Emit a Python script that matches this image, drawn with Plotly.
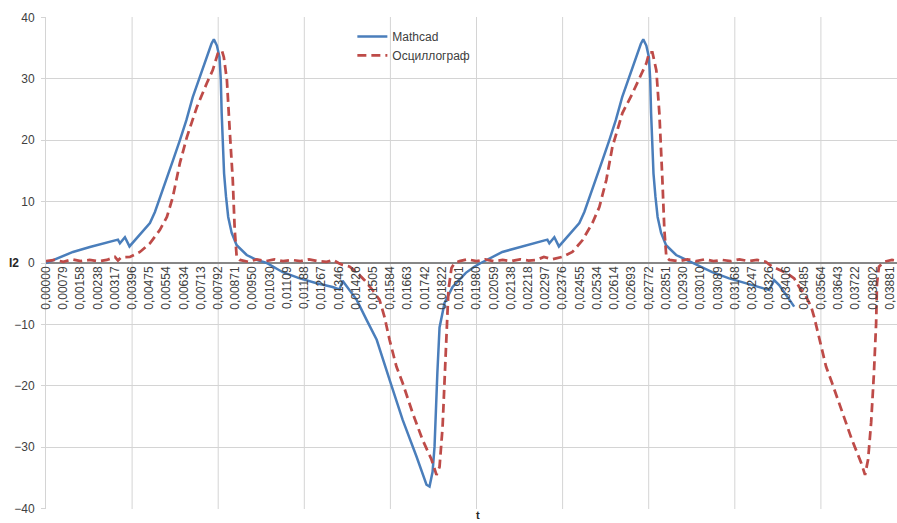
import plotly.graph_objects as go

# ---- data ----
tick_labels = ["0,00000", "0,00079", "0,00158", "0,00238", "0,00317", "0,00396", "0,00475", "0,00554",
               "0,00634", "0,00713", "0,00792", "0,00871", "0,00950", "0,01030", "0,01109", "0,01188",
               "0,01267", "0,01346", "0,01426", "0,01505", "0,01584", "0,01663", "0,01742", "0,01822",
               "0,01901", "0,01980", "0,02059", "0,02138", "0,02218", "0,02297", "0,02376", "0,02455",
               "0,02534", "0,02614", "0,02693", "0,02772", "0,02851", "0,02930", "0,03010", "0,03089",
               "0,03168", "0,03247", "0,03326", "0,03406", "0,03485", "0,03564", "0,03643", "0,03722",
               "0,03802", "0,03881", "0,03960"]

mathcad_t = [0.0, 0.00124, 0.00202, 0.00280, 0.00331, 0.00340, 0.00363, 0.00384, 0.00432, 0.00478,
             0.00501, 0.00524, 0.00555, 0.00584, 0.00616, 0.00646, 0.00675, 0.00707, 0.00738, 0.00761,
             0.00772, 0.00786, 0.00798, 0.00804, 0.00808, 0.00813, 0.00819, 0.00828, 0.00838, 0.00854,
             0.00877, 0.00923, 0.00969, 0.01015, 0.01089, 0.01167, 0.01245, 0.01318, 0.01350, 0.01364,
             0.01392, 0.01429, 0.01475, 0.01521, 0.01580, 0.01640, 0.01704, 0.01750, 0.01764, 0.01778,
             0.01787, 0.01793, 0.01800, 0.01810, 0.01833, 0.01870, 0.01931, 0.01970, 0.02000,
             0.02099, 0.02177, 0.02255, 0.02306, 0.02315, 0.02338, 0.02359, 0.02407, 0.02453, 0.02476,
             0.02499, 0.02530, 0.02559, 0.02591, 0.02621, 0.02650, 0.02682, 0.02713, 0.02736, 0.02747,
             0.02761, 0.02773, 0.02779, 0.02783, 0.02788, 0.02794, 0.02803, 0.02813, 0.02829, 0.02852,
             0.02898, 0.02944, 0.02990, 0.03064, 0.03142, 0.03220, 0.03289, 0.03326, 0.03349, 0.03372,
             0.03404, 0.03441]
mathcad_i = [0.0, 1.8, 2.6, 3.4, 3.8, 3.2, 4.2, 2.7, 4.6, 6.5,
             8.3, 10.6, 13.5, 16.7, 20.0, 23.3, 27.0, 30.3, 33.5, 35.7,
             36.4, 35.4, 33.5, 29.8, 24.4, 18.9, 14.6, 10.8, 7.5, 4.9,
             2.9, 1.3, 0.5, 0.0, -1.5, -2.5, -3.3, -3.9, -4.3, -2.9,
             -4.2, -6.0, -9.3, -12.5, -19.0, -25.5, -31.5, -36.1, -36.4, -34.0,
             -29.9, -23.4, -17.9, -10.5, -6.5, -3.9, -1.6, -0.6, 0.0,
             1.8, 2.6, 3.4, 3.8, 3.2, 4.2, 2.7, 4.6, 6.5, 8.3,
             10.6, 13.5, 16.7, 20.0, 23.3, 27.0, 30.3, 33.5, 35.7, 36.4,
             35.4, 33.5, 29.8, 24.4, 18.9, 14.6, 10.8, 7.5, 4.9, 2.9,
             1.3, 0.5, -0.3, -1.5, -2.5, -3.3, -3.9, -4.4, -2.8, -3.6,
             -5.2, -7.1]

osc_t = [0.0, 0.0004, 0.0008, 0.0012, 0.0016, 0.0020, 0.0024, 0.0028, 0.00317, 0.00331,
         0.00345, 0.00386, 0.00432, 0.00478, 0.00524, 0.00556, 0.00583, 0.00616, 0.00648, 0.00694,
         0.00740, 0.00767, 0.00790, 0.00809, 0.00818, 0.00832, 0.00845, 0.00859, 0.00868, 0.00877,
         0.00891, 0.0093, 0.0097, 0.0101, 0.0105, 0.0109, 0.0113, 0.0117, 0.0121, 0.0125,
         0.01291, 0.01320, 0.01345, 0.01364, 0.01397, 0.01429, 0.01465, 0.01502, 0.01534, 0.01557,
         0.01580, 0.01612, 0.01640, 0.01686, 0.01732, 0.01773, 0.01796, 0.01810, 0.01824, 0.01833,
         0.01842, 0.01851, 0.01865, 0.01879, 0.01902, 0.0194, 0.0198, 0.0202, 0.0206, 0.0210,
         0.0214, 0.0218, 0.0222, 0.02256, 0.02290, 0.02329, 0.02375, 0.02421, 0.02467, 0.02513,
         0.02545, 0.02577, 0.02605, 0.02651, 0.02697, 0.02729, 0.02761, 0.02775, 0.02789, 0.02807,
         0.02821, 0.02835, 0.02844, 0.02853, 0.02867, 0.0291, 0.0295, 0.0299, 0.0303, 0.0307,
         0.0311, 0.0315, 0.0319, 0.0323, 0.0327, 0.0331, 0.03340, 0.03372, 0.03404, 0.03441,
         0.03464, 0.03496, 0.03519, 0.03533, 0.03547, 0.03565, 0.03588, 0.03615, 0.03648, 0.03680,
         0.03707, 0.03749, 0.03767, 0.03781, 0.03795, 0.03808, 0.03818, 0.03822, 0.03831, 0.03854,
         0.03891, 0.03925, 0.0396]
osc_i = [0.3, 0.5, 0.2, 0.6, 0.3, 0.5, 0.3, 0.5, 1.0, 0.4,
         0.9, 1.0, 1.8, 3.2, 5.4, 7.5, 10.7, 16.3, 20.5, 25.4,
         29.3, 31.4, 34.1, 34.6, 33.5, 29.8, 21.6, 13.5, 5.4, 1.0,
         0.5, 0.2, 0.6, 0.3, 0.6, 0.3, 0.5, 0.3, 0.6, 0.3,
         0.2, 0.5, 0.0, -0.3, -0.6, -1.5, -2.8, -4.4, -6.0, -8.8,
         -12.5, -16.9, -19.5, -24.4, -28.8, -32.0, -34.5, -33.2, -26.7, -19.0,
         -11.4, -4.4, -0.8, 0.0, 0.3, 0.6, 0.3, 0.6, 0.3, 0.5,
         0.3, 0.6, 0.4, 0.5, 1.0, 0.6, 1.0, 1.8, 3.7, 6.5,
         9.1, 13.5, 18.9, 24.4, 27.6, 30.0, 32.5, 34.3, 34.3, 31.4,
         24.4, 13.5, 5.4, 1.0, 0.5, 0.3, 0.6, 0.3, 0.6, 0.3,
         0.5, 0.3, 0.6, 0.3, 0.5, 0.2, -0.6, -1.1, -1.6, -2.5,
         -3.9, -5.5, -7.1, -8.8, -10.9, -13.6, -16.9, -19.5, -22.8, -26.0,
         -28.8, -32.5, -34.5, -32.0, -26.0, -17.9, -9.8, -3.3, -0.6, 0.2,
         0.5, 0.3, 0.4]

y_ticks = [-40, -30, -20, -10, 0, 10, 20, 30, 40]

tick_vals = [float(s.replace(",", ".")) for s in tick_labels]
grid_vals = tick_vals[::5]

FONT = "Liberation Sans"
GRID = "#D4D4D4"
x_range = [0, 0.03914]

fig = go.Figure()
fig.add_trace(go.Scatter(x=mathcad_t, y=mathcad_i, mode="lines", name="Mathcad",
                         line=dict(color="#4A7EBB", width=2.5)))
fig.add_trace(go.Scatter(x=osc_t, y=osc_i, mode="lines", name="Осциллограф",
                         line=dict(color="#BE4B48", width=2.75, dash="9px,5px")))

# vertical gridlines every fifth category label
for gv in grid_vals:
    if x_range[0] < gv <= x_range[1]:
        fig.add_shape(type="line", xref="x", yref="paper", x0=gv, x1=gv, y0=0, y1=1,
                      layer="below", line=dict(color=GRID, width=1))

fig.update_layout(
    width=897, height=523,
    margin=dict(l=46, r=0, t=17, b=14),
    paper_bgcolor="white", plot_bgcolor="white",
    font=dict(family=FONT, size=12, color="#404040"),
    showlegend=True,
    legend=dict(x=0.36, y=0.99, xanchor="left", yanchor="top",
                bgcolor="rgba(0,0,0,0)", font=dict(size=12, color="#404040"),
                tracegroupgap=0),
    xaxis=dict(range=x_range, anchor="free", position=0.5,
               tickmode="array", tickvals=tick_vals, ticktext=tick_labels,
               tickangle=-90, tickfont=dict(size=12, color="#404040"),
               showgrid=False, zeroline=False, showline=False, ticks=""),
    yaxis=dict(range=[-40.05, 40.05], tickmode="array", tickvals=y_ticks,
               showgrid=True, gridcolor=GRID, gridwidth=1,
               zeroline=True, zerolinecolor="#878787", zerolinewidth=2,
               showline=True, linecolor=GRID, linewidth=1,
               ticks="outside", ticklen=4, tickcolor=GRID,
               ticklabelstandoff=4,
               tickfont=dict(size=12, color="#404040")),
    annotations=[
        dict(text="<b>I2</b>", xref="paper", yref="y", x=-0.038, y=0,
             xanchor="center", yanchor="middle", showarrow=False,
             font=dict(size=12, color="#262626")),
        dict(text="<b>t</b>", xref="paper", yref="paper", x=0.5076, y=-0.013,
             xanchor="center", yanchor="middle", showarrow=False,
             font=dict(size=11, color="#262626")),
    ],
)

fig.write_html("out.html", config={"displayModeBar": False},
               post_script="document.body.style.margin='0';")
